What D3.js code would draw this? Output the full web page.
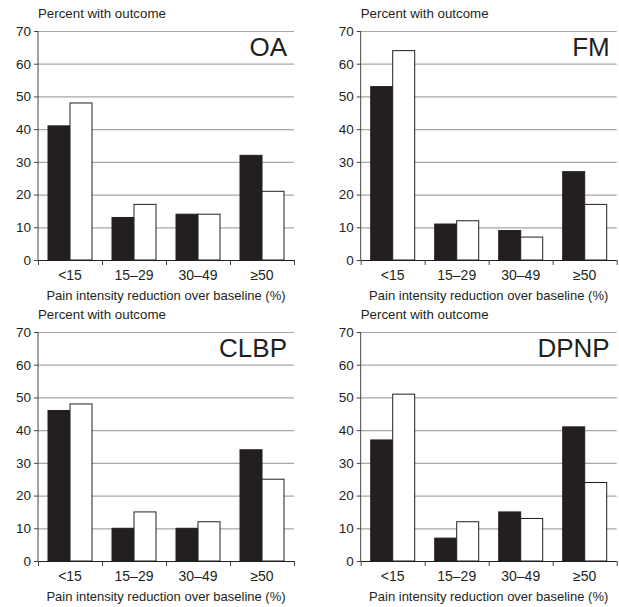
<!DOCTYPE html>
<html><head><meta charset="utf-8">
<script src="https://cdn.jsdelivr.net/npm/d3@7"></script>
<style>body{margin:0;background:#fff}svg{display:block}text{font-family:"Liberation Sans",Arial,sans-serif;fill:#231f20}</style>
</head><body><svg id="c" width="619" height="607"></svg>
<script>
const categories = ["<15", "15\u201329", "30\u201349", "\u226550"];
const panels = ["OA", "FM", "CLBP", "DPNP"];
const blackOA = [41, 13, 14, 32], whiteOA = [48, 17, 14, 21];
const blackFM = [53, 11, 9, 27], whiteFM = [64, 12, 7, 17];
const blackCLBP = [46, 10, 10, 34], whiteCLBP = [48, 15, 12, 25];
const blackDPNP = [37, 7, 15, 41], whiteDPNP = [51, 12, 13, 24];
const yTicks = [0, 10, 20, 30, 40, 50, 60, 70];
const yLabel = "Percent with outcome";
const xLabel = "Pain intensity reduction over baseline (%)";

const data = [
  {name: panels[0], black: blackOA, white: whiteOA},
  {name: panels[1], black: blackFM, white: whiteFM},
  {name: panels[2], black: blackCLBP, white: whiteCLBP},
  {name: panels[3], black: blackDPNP, white: whiteDPNP}
];

const svg = d3.select("#c");
const W = 256, H = 229;
const origins = [[38, 31], [360.7, 31], [38, 332], [360.7, 332]];
const FF = '"Liberation Sans",Arial,sans-serif';

data.forEach((p, i) => {
  const [ox, oy] = origins[i];
  const g = svg.append("g").attr("transform", `translate(${ox},${oy})`);
  const y = d3.scaleLinear().domain([0, 70]).range([H, 0]);
  const x = d3.scaleBand().domain(categories).range([0, W]).paddingInner(0.3125).paddingOuter(0.15625);
  const x1 = d3.scaleBand().domain(["black", "white"]).range([0, x.bandwidth()]);

  g.selectAll("line.grid").data(yTicks.filter(t => t > 0)).join("line")
    .attr("x1", 0).attr("x2", W).attr("y1", d => y(d) + 0.5).attr("y2", d => y(d) + 0.5)
    .attr("stroke", "#a7a7a7").attr("stroke-width", 1.2);

  categories.forEach((c, j) => {
    g.append("rect").attr("x", x(c) + x1("black")).attr("y", y(p.black[j]))
      .attr("width", x1.bandwidth()).attr("height", H - y(p.black[j]))
      .attr("fill", "#231f20").attr("stroke", "#231f20").attr("stroke-width", 1);
    g.append("rect").attr("x", x(c) + x1("white")).attr("y", y(p.white[j]))
      .attr("width", x1.bandwidth()).attr("height", H - y(p.white[j]))
      .attr("fill", "#fff").attr("stroke", "#231f20").attr("stroke-width", 1);
  });

  const ya = g.append("g").call(d3.axisLeft(y).tickValues(yTicks).tickSize(4).tickPadding(3));
  ya.select(".domain").attr("stroke", "#444").attr("d", `M0,${H}V0`);
  ya.selectAll(".tick line").attr("stroke", "#444");
  ya.selectAll("text").attr("font-size", 13.5).style("font-family", FF).attr("fill", "#231f20");

  const xLin = d3.scaleLinear().domain([0, 4]).range([0, W]);
  const xa = g.append("g").attr("transform", `translate(0,${H})`)
    .call(d3.axisBottom(xLin).tickValues([0, 1, 2, 3, 4]).tickSize(5).tickFormat(""));
  xa.select(".domain").attr("stroke", "#231f20").attr("d", `M0,0.5H${W}`);
  xa.selectAll(".tick line").attr("stroke", "#444");
  const xl = g.append("g").attr("transform", `translate(0,${H})`)
    .call(d3.axisBottom(x).tickSize(0).tickPadding(10));
  xl.select(".domain").remove();
  xl.selectAll("text").attr("font-size", 14).style("font-family", FF).attr("fill", "#231f20");

  g.append("text").attr("x", 0).attr("y", -13).attr("font-size", 13.3).text(yLabel);
  g.append("text").attr("x", W / 2).attr("y", H + 40).attr("text-anchor", "middle").attr("font-size", 13).text(xLabel);
  g.append("text").attr("x", W - 7).attr("y", 25).attr("text-anchor", "end").attr("font-size", 26).text(p.name);
});
</script></body></html>
